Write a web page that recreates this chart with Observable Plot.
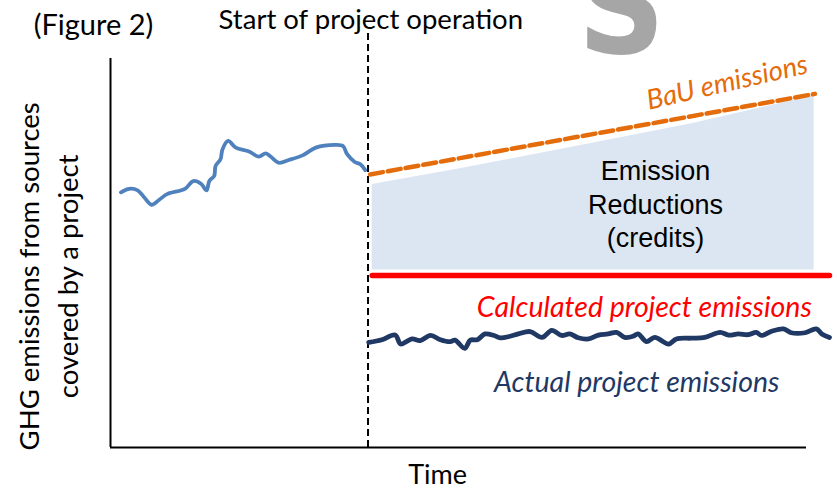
<!DOCTYPE html>
<html><head><meta charset="utf-8">
<script src="https://cdn.jsdelivr.net/npm/d3@7"></script>
<script src="https://cdn.jsdelivr.net/npm/@observablehq/plot@0.6"></script>
<style>body{margin:0;background:#fff}#chart svg{display:block}</style>
</head><body><div id="chart"></div>
<script>
// Historical emissions (before project start)
const histT = [1.5,2.7,3.9,4.8,5.9,7.0,8.2,10.7,11.9,13.0,13.8,14.2,14.9,15.1,15.8,16.1,16.9,18.0,19.9,21.3,22.3,23.0,24.2,25.6,27.6,29.5,32.3,33.4,34.0,35.1,35.9,36.6];
const histE = [65.6,66.5,66.1,64.4,62.4,63.7,65.2,66.5,68.5,67.8,66.1,68.5,69.8,72.4,74.1,76.7,78.8,77.1,76.1,74.8,75.6,74.8,73.2,73.9,75.1,77.1,77.8,77.5,75.4,73.4,72.8,71.3];
// Actual project emissions
const projT = [37.1,39.0,40.9,41.7,43.3,44.5,46.0,47.4,48.8,49.5,50.9,51.7,52.7,53.8,55.1,56.0,57.4,58.6,60.3,62.0,63.4,64.8,66.0,67.2,68.7,70.1,71.5,72.7,73.9,75.1,75.8,77.0,78.2,80.2,81.3,83.5,85.4,87.6,88.8,90.2,91.6,92.8,93.5,95.0,96.7,97.8,99.8,101.4,102.2,103.3];
const projE = [27.0,27.7,28.9,26.6,27.9,27.5,28.8,27.7,27.2,27.6,25.5,27.6,27.7,29.2,28.8,28.2,28.6,29.2,29.8,28.3,30.1,28.8,29.2,28.2,27.9,28.9,29.2,29.6,28.3,28.6,29.2,27.2,28.3,26.6,27.9,28.1,28.3,29.6,28.9,29.2,29.0,29.6,28.8,29.9,30.5,29.5,29.5,30.5,29.2,28.3];
// BaU emissions (baseline)
const bauT = [37.3, 101.2];
const bauE = [70.2, 90.9];
// Emission reductions area
const credT = [37.6, 51.2, 64.8, 83.5, 101.1];
const credTop = [67.6, 72.0, 76.7, 83.2, 90.5];
const credBase = 45.6;
// Calculated project emissions
const calcT = [37.6, 103.3];
const calcE = [44.2, 44.2];
// Start of project operation
const startT = 37.0;

const hist = histT.map((t, i) => ({t, e: histE[i]}));
const proj = projT.map((t, i) => ({t, e: projE[i]}));
const bau = bauT.map((t, i) => ({t, e: bauE[i]}));
const cred = credT.map((t, i) => ({t, top: credTop[i], base: credBase}));
const calc = calcT.map((t, i) => ({t, e: calcE[i]}));

const cal = "Lato";
const chart = Plot.plot({
  width: 837, height: 489,
  marginLeft: 110, marginRight: 31, marginTop: 58, marginBottom: 42,
  x: {domain: [0, 100], axis: null},
  y: {domain: [0, 100], axis: null},
  style: {background: "#fff"},
  marks: [
    Plot.text(["S"], {x: 73.4, y: 101.5, fontSize: 135, fontWeight: "bold", fontFamily: "DejaVu Sans Condensed", fill: "#a6a6a6", lineAnchor: "bottom"}),
    Plot.areaY(cred, {x: "t", y1: "base", y2: "top", fill: "#dce6f2"}),
    Plot.ruleX([0], {stroke: "#000", strokeWidth: 2}),
    Plot.ruleY([0], {stroke: "#000", strokeWidth: 2}),
    Plot.ruleX([startT], {y1: 0, y2: 106.5, stroke: "#000", strokeWidth: 2, strokeDasharray: "7,4"}),
    Plot.line(hist, {x: "t", y: "e", stroke: "#4f81bd", strokeWidth: 3.8, curve: "catmull-rom"}),
    Plot.line(bau, {x: "t", y: "e", stroke: "#e46c0a", strokeWidth: 4.5, strokeDasharray: "13,5"}),
    Plot.line(calc, {x: "t", y: "e", stroke: "#ff0000", strokeWidth: 5.5}),
    Plot.line(proj, {x: "t", y: "e", stroke: "#1f3864", strokeWidth: 4.8, curve: "catmull-rom", strokeLinejoin: "round"}),
    Plot.text(["(Figure 2)"], {x: -2.44, y: 108.5, fontSize: 29, fontFamily: cal, fill: "#000"}),
    Plot.text(["Start of project operation"], {x: 37.4, y: 109.8, fontSize: 27.5, fontFamily: cal, fill: "#000"}),
    Plot.text(["BaU emissions"], {x: 88.6, y: 93.8, rotate: -13, fontSize: 27.5, fontStyle: "italic", fontFamily: cal, fill: "#e46c0a"}),
    Plot.text(["Emission\nReductions\n(credits)"], {x: 78.3, y: 62.9, fontSize: 27, lineHeight: 1.25, fontFamily: "Liberation Sans", fill: "#000"}),
    Plot.text(["Calculated project emissions"], {x: 76.7, y: 36.0, fontSize: 28.5, fontStyle: "italic", fontFamily: cal, fill: "#ff0000"}),
    Plot.text(["Actual project emissions"], {x: 75.6, y: 16.5, fontSize: 28.5, fontStyle: "italic", fontFamily: cal, fill: "#1f3864"}),
    Plot.text(["Time"], {x: 47.0, y: -9.5, fontSize: 27, lineAnchor: "bottom", fontFamily: cal, fill: "#000"}),
    Plot.text(["GHG emissions from sources\ncovered by a project"], {x: -9.3, y: 44.0, rotate: -90, fontSize: 27.5, lineHeight: 1.45, fontFamily: cal, fill: "#000"})
  ]
});
document.getElementById("chart").append(chart);
</script>
</body></html>
